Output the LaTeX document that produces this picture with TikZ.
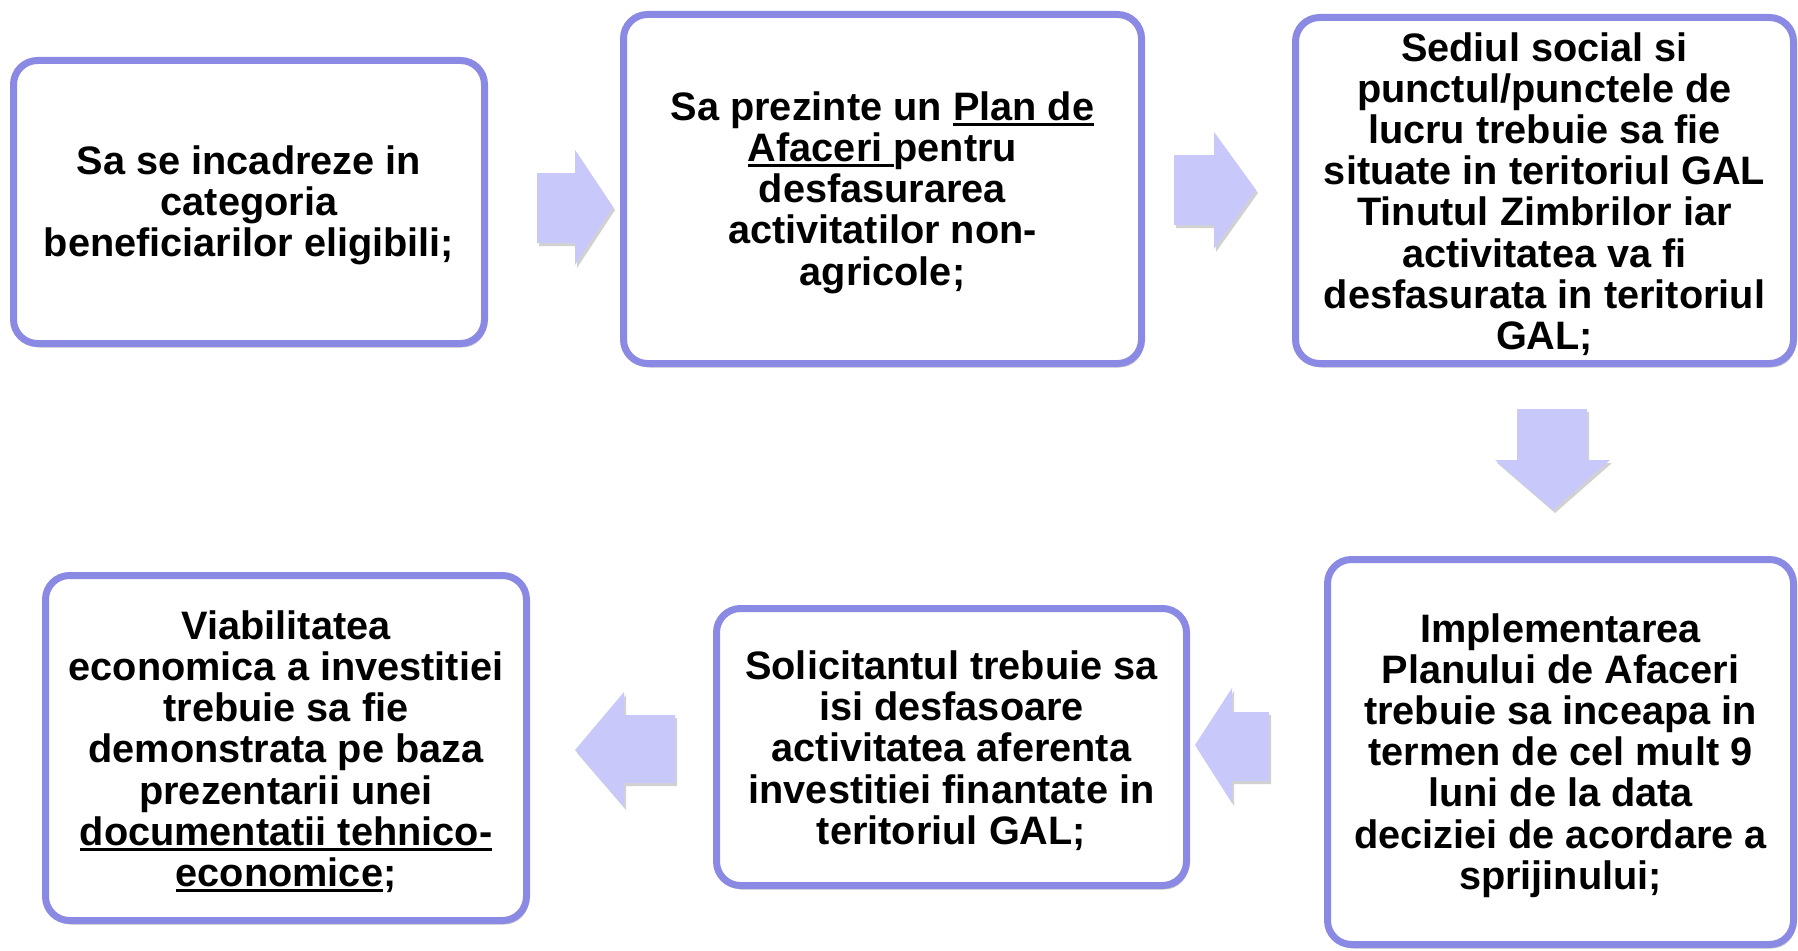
\documentclass[tikz,border=0pt]{standalone}
\usepackage{fontspec}
\setmainfont{Liberation Sans}
\usetikzlibrary{shadows}
\definecolor{boxline}{RGB}{138,138,228}
\definecolor{arrowfill}{RGB}{200,200,250}
\newcommand\ulx[1]{\setbox0\hbox{#1}\rlap{\rule[-6pt]{\wd0}{3pt}}\box0}
\begin{document}
\begin{tikzpicture}[x=1pt,y=-1pt,
  stepbox/.style={draw=boxline, line width=7pt, fill=white, rounded corners=24pt,
    inner sep=0pt,
    drop shadow={shadow xshift=2pt, shadow yshift=-4pt, opacity=0.22, fill=black}},
  steptext/.style={align=center, inner sep=0pt,
    font=\bfseries\fontsize{39.7}{41.2}\selectfont},
  blockarrow/.style={fill=arrowfill,
    drop shadow={shadow xshift=2pt, shadow yshift=-3pt, opacity=0.18, fill=black}}]
\useasboundingbox (0,0) rectangle (1798,950);

\node[stepbox, minimum width=471pt, minimum height=283pt] (b1) at (249,202) {};
\node[stepbox, minimum width=518pt, minimum height=349pt] (b2) at (882.5,189) {};
\node[stepbox, minimum width=498pt, minimum height=346pt] (b3) at (1544.5,190.5) {};
\node[stepbox, minimum width=466pt, minimum height=385pt] (b4) at (1560.5,752) {};
\node[stepbox, minimum width=470pt, minimum height=277pt] (b5) at (951.5,747) {};
\node[stepbox, minimum width=481pt, minimum height=345pt] (b6) at (286,748) {};

\node[steptext] (t1) at ([yshift=-3.5pt]b1.center)
  {Sa se incadreze in\\categoria\\beneficiarilor eligibili;};
\node[steptext] (t2) at ([yshift=-3.5pt]b2.center)
  {Sa prezinte un \ulx{Plan de}\\\ulx{Afaceri\ }pentru\\desfasurarea\\activitatilor non-\\agricole;};
\node[steptext] (t3) at ([yshift=-3.5pt]b3.center)
  {Sediul social si\\punctul/punctele de\\lucru trebuie sa fie\\situate in teritoriul GAL\\Tinutul Zimbrilor iar\\activitatea va fi\\desfasurata in teritoriul\\GAL;};
\node[steptext] (t4) at ([yshift=-3.5pt]b4.center)
  {Implementarea\\Planului de Afaceri\\trebuie sa inceapa in\\termen de cel mult 9\\luni de la data\\deciziei de acordare a\\sprijinului;};
\node[steptext] (t5) at ([yshift=-3.5pt]b5.center)
  {Solicitantul trebuie sa\\isi desfasoare\\activitatea aferenta\\investitiei finantate in\\teritoriul GAL;};
\node[steptext] (t6) at ([yshift=-3.5pt]b6.center)
  {Viabilitatea\\economica a investitiei\\trebuie sa fie\\demonstrata pe baza\\prezentarii unei\\\ulx{documentatii tehnico-}\\\ulx{economice};};

% block arrows
\fill[blockarrow] (537,173) -- (575,173) -- (575,150) -- (613,207) -- (575,265) -- (575,243) -- (537,243) -- cycle;
\fill[blockarrow] (1174,155) -- (1214,155) -- (1214,132) -- (1256,190) -- (1214,249) -- (1214,225) -- (1174,225) -- cycle;
\fill[blockarrow] (1517,409) -- (1587,409) -- (1587,460) -- (1610,460) -- (1553,510) -- (1495,460) -- (1517,460) -- cycle;
\fill[blockarrow] (1269,712) -- (1232,712) -- (1232,688) -- (1195,745) -- (1232,803) -- (1232,781) -- (1269,781) -- cycle;
\fill[blockarrow] (675,715) -- (624,715) -- (624,692) -- (575,750) -- (624,807) -- (624,783) -- (675,783) -- cycle;
\end{tikzpicture}
\end{document}
